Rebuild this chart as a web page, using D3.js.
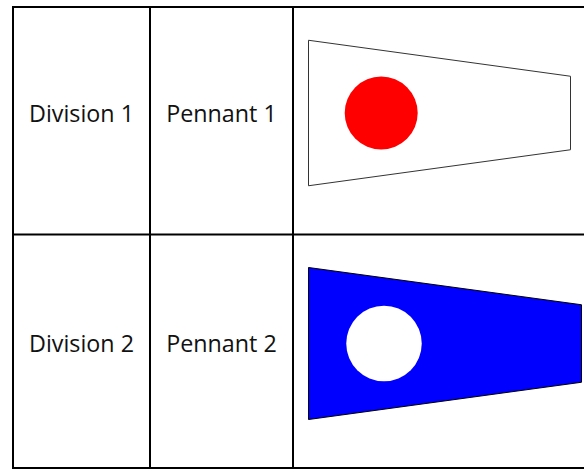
<!DOCTYPE html>
<html>
<head>
<meta charset="utf-8">
<script src="https://cdn.jsdelivr.net/npm/d3@7"></script>
<style>
  html, body { margin: 0; padding: 0; background: #fff; }
  svg { display: block; }
</style>
</head>
<body>
<svg id="svg"></svg>
<script>
// table contents, one entry per row
const divisions = ["Division 1", "Division 2"];
const pennants = ["Pennant 1", "Pennant 2"];

// table size
const columnWidths = [137, 143, 291];
const rowHeights = [227.5, 233.5];

// pennant measures per row
const pennantLength = [262, 273];
const hoistHeight = [145.5, 152];
const flyHeight = [73.5, 77.5];
const discDistance = [72.7, 75.5];
const discDiameter = [73, 75.5];

let layout = {"width": 584, "height": 470, "marginTop": 7, "marginLeft": 13};
let pennantLeft = 15.5;             // gap between the column line and the hoist
let pennantMid = [106, 109];        // centre of each pennant below its row line
let textBaseline = 1.2;             // text baseline below row centre
let fills = ["#ffffff", "#0000ff"];
let discFills = ["#ff0000", "#ffffff"];
let edgeColors = ["#333333", "#000000"];

let svgElement = d3.select("#svg")
  .attr("width", layout.width)
  .attr("height", layout.height);

svgElement.append("rect")
  .attr("width", layout.width)
  .attr("height", layout.height)
  .attr("fill", "#fff");

// cumulative line positions, the scales map table units to pixels
let columnEdges = d3.cumsum([0].concat(columnWidths));
let rowEdges = d3.cumsum([0].concat(rowHeights));

let xScale = d3.scaleLinear()
  .domain([0, columnEdges[3]])
  .range([layout.marginLeft, layout.marginLeft + columnEdges[3]]);

let yScale = d3.scaleLinear()
  .domain([0, rowEdges[2]])
  .range([layout.marginTop, layout.marginTop + rowEdges[2]]);

let rows = divisions.map((d, i) => i);

// pennants
let line = d3.line().curve(d3.curveLinearClosed);

let pennantX = xScale(columnEdges[2]) + pennantLeft;

let pennantG = svgElement.append("g").attr("id", "mark")
  .selectAll("g")
  .data(rows)
  .join("g")
  .attr("transform", i => `translate(${pennantX}, ${yScale(rowEdges[i]) + pennantMid[i]})`);

pennantG.append("path")
  .attr("d", i => line([
    [0, -hoistHeight[i] / 2],
    [pennantLength[i], -flyHeight[i] / 2],
    [pennantLength[i], flyHeight[i] / 2],
    [0, hoistHeight[i] / 2]
  ]))
  .attr("fill", i => fills[i])
  .attr("stroke", i => edgeColors[i])
  .attr("stroke-width", 1);

pennantG.append("circle")
  .attr("cx", i => discDistance[i])
  .attr("cy", 0)
  .attr("r", i => discDiameter[i] / 2)
  .attr("fill", i => discFills[i]);

// grid lines
let grid = svgElement.append("g").attr("id", "grid")
  .attr("stroke", "#000")
  .attr("stroke-width", 2);

grid.selectAll(".hLine")
  .data(rowEdges)
  .join("line")
  .attr("class", "hLine")
  .attr("x1", xScale(0) - 1)
  .attr("x2", layout.width)
  .attr("y1", d => yScale(d))
  .attr("y2", d => yScale(d));

grid.selectAll(".vLine")
  .data(columnEdges.slice(0, 3))
  .join("line")
  .attr("class", "vLine")
  .attr("x1", d => xScale(d))
  .attr("x2", d => xScale(d))
  .attr("y1", yScale(0))
  .attr("y2", yScale(rowEdges[2]));

// cell labels
function addLabels(names, column) {
  svgElement.append("g")
    .selectAll("text")
    .data(names)
    .join("text")
    .attr("x", xScale(columnEdges[column] + columnWidths[column] / 2))
    .attr("y", (d, i) => yScale(rowEdges[i] + rowHeights[i] / 2) + textBaseline)
    .attr("text-anchor", "middle")
    .attr("font-family", "'Open Sans', 'Noto Sans', sans-serif")
    .attr("font-size", 23.3)
    .attr("fill", "#111")
    .text(d => d);
}

addLabels(divisions, 0);
addLabels(pennants, 1);
</script>
</body>
</html>
